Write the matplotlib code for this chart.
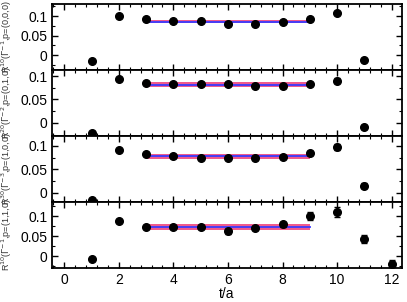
import numpy as np
import matplotlib.pyplot as plt
from matplotlib.ticker import MultipleLocator

plt.rcParams['font.family'] = ['Liberation Sans', 'DejaVu Sans']

t = [1, 2, 3, 4, 5, 6, 7, 8, 9, 10, 11, 12]

# panel values (nan = no point)
r1 = [-0.015, 0.100, 0.0915, 0.087, 0.087, 0.079, 0.079, 0.086, 0.093, 0.108, -0.013, np.nan]
e1 = [0.001, 0.001, 0.001, 0.001, 0.001, 0.001, 0.001, 0.001, 0.001, 0.002, 0.002, np.nan]
r2 = [-0.021, 0.093, 0.0857, 0.083, 0.083, 0.083, 0.079, 0.079, 0.083, 0.090, -0.0086, np.nan]
e2 = [0.002, 0.001, 0.002, 0.002, 0.002, 0.002, 0.002, 0.002, 0.002, 0.005, 0.005, np.nan]
r3 = [-0.015, 0.091, 0.0827, 0.078, 0.075, 0.075, 0.0735, 0.076, 0.085, 0.098, 0.015, np.nan]
e3 = [0.002, 0.002, 0.003, 0.003, 0.003, 0.003, 0.003, 0.003, 0.005, 0.006, 0.005, np.nan]
r4 = [-0.0075, 0.0875, 0.073, 0.072, 0.072, 0.062, 0.070, 0.079, 0.100, 0.110, 0.0425, -0.019]
e4 = [0.002, 0.003, 0.003, 0.003, 0.003, 0.006, 0.004, 0.007, 0.010, 0.012, 0.010, 0.008]

fits = [0.086, 0.082, 0.078, 0.073]
fit_err = [0.0033, 0.0043, 0.0053, 0.0075]
fit_range = [3, 9]

labels = [r'R$^{10}$($\Gamma^{-1}$,p=(0,0,0)',
          r'R$^{20}$($\Gamma^{-2}$,p=(0,1,0)',
          r'R$^{30}$($\Gamma^{-3}$,p=(1,0,0)',
          r'R$^{10}$($\Gamma^{-1}$,p=(1,1,0)']
ylims = [(-0.038, 0.131), (-0.028, 0.113), (-0.020, 0.121), (-0.030, 0.135)]

fig = plt.figure(figsize=(4.07, 3.02), dpi=100)
H = 302.0
W = 407.0
tops = [4, 70, 136, 202]
data = [(r1, e1), (r2, e2), (r3, e3), (r4, e4)]
for i in range(4):
    ax = fig.add_axes([52 / W, 1 - (tops[i] + 66) / H, 350 / W, 66 / H])
    r, e = data[i]
    ax.errorbar(t, r, yerr=e, fmt='o', color='black', ms=5.5,
                capsize=2.5, elinewidth=1, capthick=1, zorder=5)
    ax.fill_between(fit_range, fits[i] - fit_err[i], fits[i] + fit_err[i],
                    color='#f05a8c', lw=0, zorder=2)
    ax.plot(fit_range, [fits[i], fits[i]], color='#3a3aff', lw=1.3, zorder=3)
    ax.set_xlim(-0.45, 12.38)
    ax.set_ylim(*ylims[i])
    ax.set_yticks([0, 0.05, 0.1])
    ax.set_yticklabels(['0', '0.05', '0.1'])
    ax.xaxis.set_major_locator(MultipleLocator(2))
    ax.xaxis.set_minor_locator(MultipleLocator(0.4))
    ax.yaxis.set_minor_locator(MultipleLocator(0.025))
    ax.tick_params(which='both', direction='in', top=True, right=True, labelsize=10)
    ax.tick_params(which='major', length=4, width=1)
    ax.tick_params(which='minor', length=2, width=0.8)
    for s in ax.spines.values():
        s.set_linewidth(1.3)
    ax.set_ylabel(labels[i], fontsize=6.5, color='#333333', labelpad=1)
    ax.yaxis.set_label_coords(-0.108, 0.5)
    if i < 3:
        ax.set_xticklabels([])
    else:
        ax.set_xlabel('t/a', fontsize=10, labelpad=0)

fig.savefig('out.png', dpi=100)
